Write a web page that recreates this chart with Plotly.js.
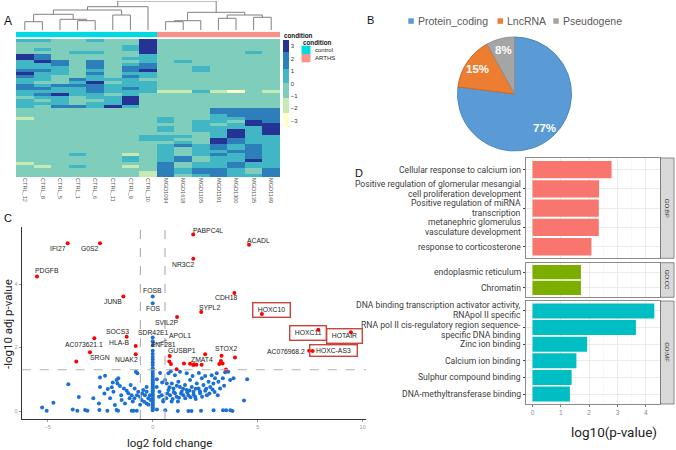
<!DOCTYPE html>
<html><head><meta charset="utf-8">
<script src="https://cdn.plot.ly/plotly-3.0.1.min.js"></script>
<style>html,body{margin:0;padding:0;background:#fff}#chart{width:676px;height:450px}</style>
</head><body><div id="chart"></div>
<script>
// ---------------- Panel A: heatmap data ----------------
const sampleNames = ['CTRL_12','CTRL_8','CTRL_5','CTRL_1','CTRL_6','CTRL_11','CTRL_9','CTRL_10',
  'MGD1094','MGD1618','MGD1105','MGD1191','MGD1300','MGD1135','MGD1149'];
const sampleCondition = ['control','control','control','control','control','control','control','control',
  'ARTHS','ARTHS','ARTHS','ARTHS','ARTHS','ARTHS','ARTHS'];
const conditionNames = ['control','ARTHS'];
// z-score level codes per gene row (Y=-3, G=-2, L=-0.4, T=0.6, B=1.8, N=3)
const levelValue = {Y:-3, G:-2, L:-0.4, T:0.6, B:1.8, N:3};
const heatRows = [
 "TTLLTLLNLLLLLLL","LLLLLLLNLLLLLLL","LLLLLLTNLLLLLLL","LTLLLLTNLLLLLLL","LLLTTLLNLLLLLTL",
 "NBLLLLLTLLLLLLL","NBLLLLTTLLLLLLL","TNBLBLLTLTLLLLL","TTBLBLTBLLLLLLL","TTTLBLBBLLTLLLL",
 "BBTLTLBNLLTLLLL","NTTLBLTTLLLLLLL","BTLLTLBTLLLLLLL","TTLBTTTLLLLLLLL","TLLTNLTTLLLLLLL",
 "BTBBBTTTLLLLLLL","BBTTBTBTLLLLLLL","TTTTBTTTGGTGYLG","TBNTTLTLLLLLLLL","LTTLTTNLLLLLLLL",
 "TLTLLTNLLLLLLLL","TTTLTTNLLLLLLLL","TLBBTNTLLLLLLLL","LLLLLLLLLLLBBBB","LLLLLLLLLLLBBBB",
 "LLLLLLLLLLLTBBB","GLLLLLLLTLLTTBB","LLLLLLLLTLTTLNB","LLLLLLLLLLTLTNN","LLLLLLLLTLTTTTN",
 "LLLLLLLLTLTTNTN","LLLLLLLLLLLTNTN","LLLLLLLTTTLTNTT","LLLLLLLTTLLNBTT","LLLLLLLLLTLNBTT",
 "LLLLLLLLTBTBTBT","LLLLLLLLTLTBTBT","LLLLLLLLTLTTBBT","LLLTLLGLTLTBTBT","LLLLLLTLTBLTTBT",
 "LLLLLLTLTBLTTNT","GLLLLLLLBLTTBTT","LGLTLLGLBLTTBTT","LLLLLLLLBTBBTLB","LLLLLLLGBTBBTLB",
 "LLLLLLLGBLTBTTB"
];
const colorTicks = [3,2,1,0,-1,-2,-3];
// dendrogram (hclust-style merges: negative = leaf index, positive = earlier merge)
const mergeA = [-1,-4,-3,1,-6,4,6,-9,8,-12,-14,10,9,7];
const mergeB = [-2,-5,2,3,-7,5,-8,-10,-11,-13,-15,11,12,13];
const mergeHeight = [8.3,9.3,10.7,15.7,15,20,23.3,8.3,9.3,11.7,12.7,15,17.7,29];

// ---------------- Panel B: pie ----------------
const pieLabels = ['Protein_coding','LncRNA','Pseudogene'];
const pieValues = [77,15,8];

// ---------------- Panel C: volcano ----------------
const fcThreshold = 0.585;
const pThreshold = 1.301;
const sigGene = ['PABPC4L','IFI27','G0S2','ACADL','NR3C2','PDGFB','CDH18','JUNB','SYPL2','HOXC10','SVIL2P',
  'HOXC11','HOTAIR','SOCS3','AC073621.1','HLA-B','SRGN','NUAK2','AC076968.2','HOXC-AS3','GUSBP1','ZMAT4','STOX2',
  '','','','','','','','','','','','','','',''];
const sigX = [1.93,-4.05,-2.51,4.59,1.93,-5.51,3.89,-1.40,2.31,5.20,1.16,
  7.89,9.44,-1.24,-2.78,-0.81,-2.99,-0.81,7.45,7.62,0.81,1.78,3.28,
  -3.64,0.87,1.14,0.79,1.49,1.97,2.08,2.50,3.92,3.25,3.33,3.17,3.49,2.33,1.93];
const sigY = [5.56,5.29,5.29,5.24,4.80,4.24,3.72,3.61,3.12,3.06,2.96,
  2.56,2.48,2.34,2.29,2.05,1.85,1.79,1.90,1.89,1.73,1.49,1.74,
  1.56,1.48,1.32,1.56,1.50,1.47,1.46,1.79,1.69,1.58,1.50,1.48,1.31,1.46,1.45];
const nsGene = ['FOSB','FOS','SDR42E1','APOL1','ZNF281'];
const nsGeneX = [0,0,0,0,0];
const nsGeneY = [3.61,3.40,2.32,2.08,1.90];
const nsX = [
  0,0,0,0,0,0,0,0,0,0,0,0,0,0,0,0,0,0,0,0,0,0,0,0,0,0,0,0,0,0,0,0,
  -5.27,-5.05,-4.73,-4.02,-3.52,-3.81,-3.59,-3.22,-3.11,-2.56,-2.54,-2.51,-2.27,-2.16,-1.80,-1.72,-1.65,-1.00,-0.92,-0.76,
  -1.87,-2.14,-1.72,-1.64,-1.68,-1.56,-1.37,-1.24,-1.16,-1.05,-1.00,-0.87,-0.80,-0.73,-0.86,-0.69,-0.61,-1.48,-1.32,-2.03,
  -2.51,-2.83,-0.29,-0.45,-0.37,-0.21,-0.53,-0.29,-0.13,-0.10,-0.41,-0.29,-1.90,-1.50,-0.95,-0.60,-0.20,-0.50,-0.75,-1.10,-2.30,-1.95,
  0.19,0.32,0.43,0.51,0.67,0.75,0.83,0.91,0.99,1.06,1.14,1.22,1.30,1.38,1.46,1.54,1.62,1.70,1.78,1.86,1.94,2.02,2.10,2.18,
  2.26,2.34,2.42,2.50,2.58,2.66,2.74,2.81,2.89,2.97,3.05,3.13,3.21,3.34,3.45,3.60,3.69,3.85,4.50,4.35,
  0.59,0.75,0.86,1.06,1.30,1.62,1.90,2.20,2.50,0.30,0.65,0.95,1.25,1.55,1.80,2.05,2.35,2.70,2.95,3.10,
  0.70,1.00,1.35,1.65,1.95,2.25,2.55,0.45,0.20,0.35,0.80,1.15,1.45,1.75,2.05,2.85,3.40,0.50,0.90,1.20,
  1.20,1.70,1.85,2.30,2.90,3.35,3.50,3.70,3.80,0.60,0.20];
const nsY = [
  0.02,0.07,0.12,0.17,0.22,0.27,0.32,0.37,0.42,0.47,0.52,0.57,0.62,0.67,0.72,0.77,0.82,0.87,0.92,0.97,1.02,1.08,1.14,1.20,1.27,1.35,1.45,1.53,1.62,1.70,1.80,2.20,
  0.11,0.01,0.26,0.84,0.44,0.05,0.01,0.03,0.01,0.24,0.03,1.06,1.11,0.01,0.19,0.03,0.01,0.01,0.01,0.01,
  0.61,0.69,0.98,1.03,0.87,0.79,0.71,0.64,0.56,0.82,0.50,0.40,1.24,1.19,0.71,0.61,0.45,0.35,0.24,0.40,
  0.76,0.40,0.76,0.66,0.50,0.40,0.35,0.61,0.50,0.35,0.29,0.24,0.90,0.50,0.30,0.20,0.20,0.55,0.50,0.40,0.55,0.75,
  0.76,0.61,0.50,0.35,0.87,0.66,0.50,0.87,0.71,0.56,0.45,0.92,0.76,0.61,0.50,0.82,0.66,0.50,0.98,0.76,0.61,0.45,0.87,0.71,
  0.56,1.03,0.82,0.64,0.50,0.92,0.76,1.13,0.87,1.03,1.19,0.92,0.71,1.03,1.22,1.24,0.98,1.03,1.00,0.33,
  0.98,1.19,1.25,1.13,1.24,1.19,1.10,1.20,1.10,0.45,0.40,0.38,0.42,0.40,0.43,0.38,0.45,0.55,0.60,0.50,
  0.55,0.60,0.55,0.58,0.52,0.62,0.70,0.90,1.00,1.20,0.75,0.80,0.70,0.65,0.70,0.68,0.80,0.30,0.30,0.30,
  0.00,0.00,0.00,0.01,0.02,0.02,0.02,0.02,0.00,0.02,0.05];

// ---------------- Panel D: GO enrichment ----------------
const bpTerms = ['Cellular response to calcium ion','Positive regulation of glomerular mesangial<br>cell proliferation development',
  'Positive regulation of miRNA<br>transcription','metanephric glomerulus<br>vasculature development','response to corticosterone'];
const bpValues = [2.79,2.35,2.34,2.34,2.08];
const ccTerms = ['endoplasmic reticulum','Chromatin'];
const ccValues = [1.71,1.71];
const mfTerms = ['DNA binding transcription activator activity,<br>RNApol II specific',
  'RNA pol II cis-regulatory region sequence-<br>specific DNA binding','Zinc ion binding','Calcium ion binding',
  'Sulphur compound binding','DNA-methyltransferase binding'];
const mfValues = [4.30,3.65,1.93,1.55,1.38,1.32];
const goGroups = ['GO:BP','GO:CC','GO:MF'];

// ================= build =================
const W = 676, H = 450;
const px = v => v / W;
const py = v => 1 - v / H;
const FONT = 'Liberation Sans, Arial, sans-serif';

const heatZ = heatRows.map(r => r.split('').map(c => levelValue[c]));
const colIdx = sampleNames.map((_, i) => i + 1);
const rowIdx = heatRows.map((_, i) => i);
const stepScale = [[0,'#FFFFCC'],[0.157,'#FFFFCC'],[0.157,'#C7E9B4'],[0.329,'#C7E9B4'],[0.329,'#7FCDBB'],[0.5,'#7FCDBB'],
  [0.5,'#41B6C4'],[0.671,'#41B6C4'],[0.671,'#2C7FB8'],[0.864,'#2C7FB8'],[0.864,'#253494'],[1,'#253494']];
const CYAN = '#00D8E2', SALMON = '#F9938A';

// dendrogram segments
const nodePos = [], nodeH = [];
function nodeInfo(k) { return k < 0 ? [-k, 0] : [nodePos[k - 1], nodeH[k - 1]]; }
const dx = [], dy = [];
for (let m = 0; m < mergeA.length; m++) {
  const [xa, ha] = nodeInfo(mergeA[m]);
  const [xb, hb] = nodeInfo(mergeB[m]);
  const h = mergeHeight[m];
  dx.push(xa, xa, xb, xb, null);
  dy.push(ha, h, h, hb, null);
  nodePos.push((xa + xb) / 2); nodeH.push(h);
}

const traces = [];
traces.push({type:'heatmap', z: heatZ, x: colIdx, y: rowIdx, xaxis:'x', yaxis:'y', zmin:-3.5, zmax:3.5,
  colorscale: stepScale, hoverinfo:'skip',
  colorbar:{x:px(283), xanchor:'left', xpad:0, y:py(40), yanchor:'top', ypad:0, len:87/H, lenmode:'fraction',
    thickness:6, outlinewidth:0, tickvals: colorTicks, ticks:'', tickfont:{size:6, color:'#333', family:FONT}}});
traces.push({type:'heatmap', z:[sampleCondition.map(c => conditionNames.indexOf(c))], x: colIdx, y:[0],
  xaxis:'x2', yaxis:'y2', zmin:0, zmax:1, showscale:false, hoverinfo:'skip',
  colorscale:[[0,CYAN],[0.5,CYAN],[0.5,SALMON],[1,SALMON]]});
traces.push({type:'scatter', mode:'lines', x: dx, y: dy, xaxis:'x3', yaxis:'y3', line:{color:'#808080', width:1},
  hoverinfo:'skip', showlegend:false});

// pie
const pieColors = ['#5B9BD5','#ED7D31','#A5A5A5'];
const pieDom = {x:[px(457.5), px(571.5)], y:[py(151), py(37)]};
traces.push({type:'pie', labels: pieLabels, values: pieValues, sort:false, direction:'clockwise', rotation:0,
  domain: pieDom,
  marker:{colors: pieColors, line:{color:['#4A86BD','#D06A25','#8E8E8E'], width:1}},
  textinfo:'none', hoverinfo:'skip', showlegend:false});

// volcano
traces.push({type:'scatter', mode:'markers', x: nsX.concat(nsGeneX), y: nsY.concat(nsGeneY), xaxis:'x4', yaxis:'y4',
  marker:{color:'#1B70D6', size:4}, hoverinfo:'skip', showlegend:false});
traces.push({type:'scatter', mode:'markers', x: sigX, y: sigY, xaxis:'x4', yaxis:'y4',
  marker:{color:'#FF0000', size:4}, hoverinfo:'skip', showlegend:false});

// GO bars
const goColors = ['#F8766D','#7CAE00','#00BFC4'];
[[bpTerms,bpValues],[ccTerms,ccValues],[mfTerms,mfValues]].forEach(([t,v],i) => {
  traces.push({type:'bar', orientation:'h', x: v, y: t, xaxis:'x'+(5+i), yaxis:'y'+(5+i), width:0.9,
    marker:{color: goColors[i], line:{width:0}}, hoverinfo:'skip', showlegend:false});
});

const hidden = {visible:false, fixedrange:true};
const layout = {
  width: W, height: H, autosize:false, margin:{l:0,r:0,t:0,b:0}, paper_bgcolor:'#fff', plot_bgcolor:'#fff',
  font:{family:FONT}, showlegend:false,
  xaxis:{domain:[px(16), px(280)], range:[0.5,15.5], tickvals: colIdx, ticktext: sampleNames, tickangle:90,
    ticks:'', showgrid:false, zeroline:false, showline:false, tickfont:{size:5.6, color:'#555', family:FONT}, anchor:'y'},
  yaxis:{domain:[py(177), py(39)], range:[heatRows.length-0.5,-0.5], visible:false, anchor:'x'},
  xaxis2:Object.assign({domain:[px(16), px(280)], range:[0.5,15.5], anchor:'y2'}, hidden),
  yaxis2:Object.assign({domain:[py(37.3), py(31.7)], range:[-0.5,0.5], anchor:'x2'}, hidden),
  xaxis3:Object.assign({domain:[px(16), px(280)], range:[0.5,15.5], anchor:'y3'}, hidden),
  yaxis3:Object.assign({domain:[py(30), py(1)], range:[0,29], anchor:'x3'}, hidden),
  xaxis4:{domain:[px(21.7), px(366)], range:[-6.24,10.16], anchor:'y4', tickvals:[-5,0,5,10], showgrid:false, zeroline:false,
    showline:true, linecolor:'#333', linewidth:1, ticks:'outside', ticklen:2, tickcolor:'#999',
    tickfont:{size:5.5, color:'#999', family:FONT}},
  yaxis4:{domain:[py(419), py(227)], range:[-0.252,5.8], anchor:'x4', tickvals:[0,2,4], showgrid:false, zeroline:false,
    showline:true, linecolor:'#333', linewidth:1, ticks:'outside', ticklen:2, tickcolor:'#999',
    tickfont:{size:5.5, color:'#999', family:FONT}},
  shapes:[], annotations:[]
};
function paperText(text, x, y, size, opts) {
  layout.annotations.push(Object.assign({xref:'paper', yref:'paper', x:px(x), y:py(y), xanchor:'center', yanchor:'middle',
    text:text, showarrow:false, font:{size:size, color:'#111', family:FONT}}, opts || {}));
}

// pie percentage labels placed along each slice's mid-angle
const pieTotal = pieValues.reduce((a, b) => a + b, 0);
const pieCx = 514.5, pieCy = 94, pieR = 57;
let cum = 0;
pieValues.forEach(v => {
  const mid = (cum + v / 2) / pieTotal * 2 * Math.PI; cum += v;
  paperText('<b>' + v + '%</b>', pieCx + 0.79 * pieR * Math.sin(mid), pieCy - 0.79 * pieR * Math.cos(mid), 11.5,
    {font:{size:11.5, color:'#FFFFFF', family:FONT}});
});

// GO axes
const goYDom = [[py(258.3), py(158)], [py(297.3), py(262.7)], [py(404), py(301)]];
const goLabelNudge = [[0,0,0,0,0],[0,0],[-1,2.8,0,0,0,0]]; // px, positive = down
[bpTerms, ccTerms, mfTerms].forEach((t, i) => {
  const n = t.length;
  layout['xaxis'+(5+i)] = {domain:[px(526), px(660)], range:[-0.23,4.5], anchor:'y'+(5+i), dtick:1, tick0:0,
    showgrid:true, gridcolor:'#E6E6E6', gridwidth:0.8, zeroline:false, showline:true, mirror:true, linecolor:'#6E6E6E', linewidth:0.8,
    minor:{showgrid:true, dtick:0.5, tick0:0, gridcolor:'#F3F3F3', gridwidth:0.5},
    showticklabels: i === 2, ticks: i === 2 ? 'outside' : '', ticklen:2, tickcolor:'#777',
    tickfont:{size:6.5, color:'#888', family:FONT}};
  layout['yaxis'+(5+i)] = {domain: goYDom[i], type:'category', categoryorder:'array', categoryarray:t,
    range:[n-0.4, -0.6], anchor:'x'+(5+i), showgrid:true, gridcolor:'#E6E6E6', gridwidth:0.8,
    showline:true, mirror:true, linecolor:'#6E6E6E', linewidth:0.8, ticks:'outside', ticklen:2.5, tickcolor:'#444',
    showticklabels:false};
  // term labels, one annotation per line for tight line spacing
  t.forEach((term, k) => {
    const lines = term.split('<br>');
    lines.forEach((ln, j) => {
      layout.annotations.push({xref:'paper', yref:'y'+(5+i), x:px(523), y:term, xanchor:'right', yanchor:'middle',
        yshift: ((lines.length - 1) / 2 - j) * 10 - goLabelNudge[i][k], text:ln, showarrow:false,
        font:{size:8.6, color:'#3C3C3C', family:'Roboto, sans-serif'}});
    });
  });
  layout.shapes.push({type:'rect', xref:'paper', yref:'paper', x0:px(660.5), x1:px(674), y0:goYDom[i][0], y1:goYDom[i][1],
    fillcolor:'#D9D9D9', line:{color:'#6E6E6E', width:0.8}});
  layout.annotations.push({xref:'paper', yref:'paper', x:px(667.3), y:(goYDom[i][0]+goYDom[i][1])/2, xanchor:'center',
    yanchor:'middle', text:goGroups[i], textangle:90, showarrow:false, font:{size:6, color:'#333', family:FONT}});
});

// volcano threshold lines
[-fcThreshold, fcThreshold].forEach(v => layout.shapes.push({type:'line', xref:'x4', yref:'y4 domain', x0:v, x1:v, y0:0, y1:1,
  line:{color:'#B3B3B3', width:1.2, dash:'dash'}}));
layout.shapes.push({type:'line', xref:'x4 domain', yref:'y4', x0:0, x1:1, y0:pThreshold, y1:pThreshold,
  line:{color:'#B3B3B3', width:1.2, dash:'dash'}});

// condition legend (heatmap A)
conditionNames.forEach((c, i) => {
  layout.shapes.push({type:'rect', xref:'paper', yref:'paper', x0:px(301.5), x1:px(310.5), y0:py(54+8.3*i), y1:py(45.7+8.3*i),
    fillcolor: i === 0 ? CYAN : SALMON, line:{width:0}});
  paperText(c, 312.5, 50 + 7.6 * i, 6, {xanchor:'left', font:{size:6, color:'#222', family:FONT}});
});
paperText('<b>condition</b>', 282, 35.3, 6.3, {xanchor:'left'});
paperText('<b>condition</b>', 300.5, 42, 6.3, {xanchor:'left'});

// pie legend (drawn manually)
const pieLegendX = [408.3, 497.5, 553.3];
pieLabels.forEach((l, i) => {
  layout.shapes.push({type:'rect', xref:'paper', yref:'paper', x0:px(pieLegendX[i]), x1:px(pieLegendX[i]+5.5),
    y0:py(23.8), y1:py(18.3), fillcolor:pieColors[i], line:{width:0}});
  paperText(l, pieLegendX[i] + 7.5, 21, 10.5, {xanchor:'left', font:{size:10.5, color:'#595959', family:FONT}});
});

// panel letters
paperText('A', 7.5, 21, 12);
paperText('B', 370.5, 19.5, 11);
paperText('C', 7.5, 217.5, 11);
paperText('D', 359, 172.5, 11);

// axis titles
paperText('-log10 adj p-value', 8, 324, 11.5, {textangle:-90, font:{size:11.5, color:'#222', family:'Roboto, sans-serif'}});
paperText('log2 fold change', 169.7, 443, 11.5, {font:{size:11.5, color:'#222', family:'Roboto, sans-serif'}});
paperText('log10(p-value)', 613.5, 431.5, 13.5, {font:{size:13.5, color:'#222', family:'Roboto, sans-serif'}});

// volcano labels: pixel offsets of label centres from their points
const labelOffset = {
  'PABPC4L':[14.4,-3.7],'IFI27':[-9.4,5],'G0S2':[-10,5],'ACADL':[9.3,-4.7],'NR3C2':[-10,5.3],'PDGFB':[9.7,-5.7],
  'CDH18':[-7.6,4.7],'JUNB':[-10,5],'SYPL2':[8.7,-4.7],'HOXC10':[9.8,-3.8],'SVIL2P':[-10.3,5],'HOXC11':[-10.1,3.7],
  'HOTAIR':[-6.3,4],'SOCS3':[-9.4,-5],'AC073621.1':[-10,5.7],'HLA-B':[-16.4,-3.3],'SRGN':[10,5],'NUAK2':[-9,5.7],
  'AC076968.2':[-23.3,0.8],'HOXC-AS3':[21.3,-0.2],'GUSBP1':[12,-5.3],'ZMAT4':[11.7,-4.4],'STOX2':[4.3,-7.4],
  'FOSB':[0,-6],'FOS':[0,5.4],'SDR42E1':[0.6,-4.5],'ZNF281':[10.6,-5.8]
};
const boxed = {'HOXC10':[4,3],'HOXC11':[3,3],'HOTAIR':[3,3],'HOXC-AS3':[8,1.5]};
function addLabel(name, x, y) {
  if (!name) return;
  if (name === 'APOL1') {
    layout.annotations.push({xref:'x4', yref:'y4', x:x, y:y, text:name, showarrow:true, arrowhead:0, arrowwidth:0.6,
      arrowcolor:'#333', ax:27, ay:-9.5, standoff:0, font:{size:6.8, color:'#222', family:FONT}});
    return;
  }
  const o = labelOffset[name];
  const a = {xref:'x4', yref:'y4', x:x, y:y, xanchor:'center', yanchor:'middle', text:name, showarrow:false,
    xshift:o[0], yshift:-o[1], font:{size:6.8, color:'#222', family:FONT}};
  if (boxed[name]) {
    const pad = boxed[name];
    a.text = '\u2009'.repeat(pad[0] > 5 ? 3 : 1) + name + '\u2009'.repeat(pad[0] > 5 ? 3 : 1);
    a.bordercolor = '#C9443A'; a.borderwidth = 1.4; a.borderpad = pad[1];
  }
  layout.annotations.push(a);
}
sigGene.forEach((g, i) => addLabel(g, sigX[i], sigY[i]));
nsGene.forEach((g, i) => addLabel(g, nsGeneX[i], nsGeneY[i]));

Plotly.newPlot('chart', traces, layout, {staticPlot:true, displayModeBar:false});
</script></body></html>
